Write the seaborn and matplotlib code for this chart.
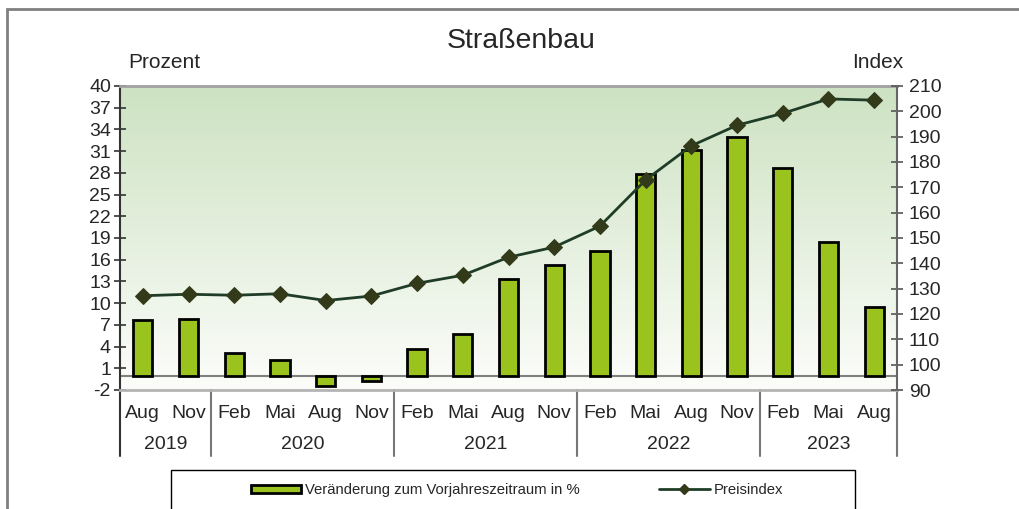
import numpy as np
import pandas as pd
import matplotlib
matplotlib.use('agg')
import matplotlib.pyplot as plt
import matplotlib.transforms as mtrans
from matplotlib.patches import Rectangle
from matplotlib.lines import Line2D
from matplotlib.patches import Patch
import seaborn as sns

sns.set_style('white')
plt.rcParams['font.family'] = ['Liberation Sans', 'DejaVu Sans']
plt.rcParams['axes.unicode_minus'] = False

# daten
monate = ['Aug', 'Nov', 'Feb', 'Mai', 'Aug', 'Nov', 'Feb', 'Mai', 'Aug', 'Nov',
          'Feb', 'Mai', 'Aug', 'Nov', 'Feb', 'Mai', 'Aug']
jahre = ['2019', '2020', '2021', '2022', '2023']
monate_pro_jahr = [2, 4, 4, 4, 3]
veraenderung = [7.7, 7.8, 3.1, 2.2, -1.5, -0.7, 3.7, 5.7, 13.4, 15.3,
                17.2, 27.8, 31.2, 32.9, 28.7, 18.4, 9.5]
preisindex = [127.2, 127.8, 127.4, 128.0, 125.3, 127.1, 132.1, 135.3, 142.4, 146.4,
              154.7, 172.9, 186.4, 194.5, 199.2, 204.9, 204.4]

pos = list(range(len(monate)))
df = pd.DataFrame({'pos': pos, 'monat': monate, 'proz': veraenderung, 'index': preisindex})

balken_farbe = '#9BC31E'
linien_farbe = '#1F3D26'
marker_farbe = '#333A1A'
fs = 14

fig = plt.figure(figsize=(10.2, 5.09), dpi=100)
ax = fig.add_axes([120/1020, 1-390/509, (897-120)/1020, (390-86)/509])

# hintergrund verlauf
oben = np.array([205, 226, 194]) / 255
unten = np.array([252, 253, 250]) / 255
t = np.linspace(0, 1, 256)[:, None]
verlauf = (oben * (1 - t) + unten * t)[:, None, :]
ax.imshow(verlauf, extent=[-0.5, 16.5, -2, 40], aspect='auto', zorder=0,
          interpolation='bicubic')

sns.barplot(data=df, x='pos', y='proz', ax=ax, color=balken_farbe, saturation=1,
            width=0.42, edgecolor='black', linewidth=2, zorder=3)
ax.axhline(0, color='#808080', lw=1.5, zorder=2)

ax.set_xlim(-0.5, 16.5)
ax.set_ylim(-2, 40)
ax.set_yticks(np.arange(-2, 41, 3))
ax.set_xticks(pos)
ax.set_xticklabels(monate)
ax.tick_params(axis='x', length=0, pad=11, labelsize=fs)
ax.tick_params(axis='y', direction='inout', length=9, width=1.2, color='#333333',
               labelsize=fs, pad=2)
ax.set_xlabel('')
ax.set_ylabel('')

ax.spines['left'].set_color('#333333')
ax.spines['left'].set_linewidth(1.5)
ax.spines['top'].set_color('#A0A0A0')
ax.spines['top'].set_linewidth(2)
ax.spines['bottom'].set_color('#B4B4B4')
ax.spines['bottom'].set_linewidth(2)
ax.spines['right'].set_visible(False)

ax2 = ax.twinx()
sns.lineplot(data=df, x='pos', y='index', ax=ax2, color=linien_farbe, lw=2,
             marker='D', markersize=8, markerfacecolor=marker_farbe,
             markeredgecolor=marker_farbe, zorder=4)
ax2.set_xlim(-0.5, 16.5)
ax2.set_ylim(90, 210)
ax2.set_yticks(np.arange(90, 211, 10))
ax2.set_ylabel('')
ax2.set_xlabel('')
ax2.tick_params(axis='y', direction='inout', length=9, width=1.2, color='#555555',
                labelsize=fs, pad=4)
for s in ['left', 'top', 'bottom']:
    ax2.spines[s].set_visible(False)
ax2.spines['right'].set_color('#666666')
ax2.spines['right'].set_linewidth(1.5)

# jahres-trenner und beschriftung
trans = mtrans.blended_transform_factory(ax.transData, ax.transAxes)
grenzen = np.concatenate([[0], np.cumsum(monate_pro_jahr)]) - 0.5
for i, g in enumerate(grenzen):
    farbe = '#333333' if i == 0 else '#777777'
    ax.plot([g, g], [0, -0.217], transform=trans, color=farbe, lw=1.5, clip_on=False)
for j, jahr in enumerate(jahre):
    mitte = (grenzen[j] + grenzen[j + 1]) / 2
    ax.text(mitte, -0.178, jahr, transform=trans, ha='center', va='center', fontsize=fs)

fig.text(128/1020, 1-62/509, 'Prozent', ha='left', va='center', fontsize=15)
fig.text(903/1020, 1-62/509, 'Index', ha='right', va='center', fontsize=15)
fig.text(521/1020, 1-41/509, 'Straßenbau', ha='center', va='center', fontsize=20.5)

# rahmen
fig.patches.append(Rectangle((7/1020, -0.2), 1.2, 1.2 - 9/509, transform=fig.transFigure,
                             fill=False, edgecolor='#808080', lw=2))
fig.patches.append(Rectangle((171/1020, -0.2), (855-171)/1020, 0.2 + 1 - 470/509,
                             transform=fig.transFigure, fill=False, edgecolor='black', lw=1))

handles = [Patch(facecolor=balken_farbe, edgecolor='black', lw=2),
           Line2D([], [], color=linien_farbe, lw=2, marker='D', markersize=5,
                  markerfacecolor=marker_farbe, markeredgecolor=marker_farbe)]
fig.legend(handles, ['Veränderung zum Vorjahreszeitraum in %', 'Preisindex'],
           loc='center', bbox_to_anchor=(517/1020, 1-490/509), ncol=2, frameon=False,
           fontsize=10.7, handlelength=3.4, handleheight=0.45, columnspacing=5.3,
           handletextpad=0.3)

fig.savefig('out.png', dpi=100)
